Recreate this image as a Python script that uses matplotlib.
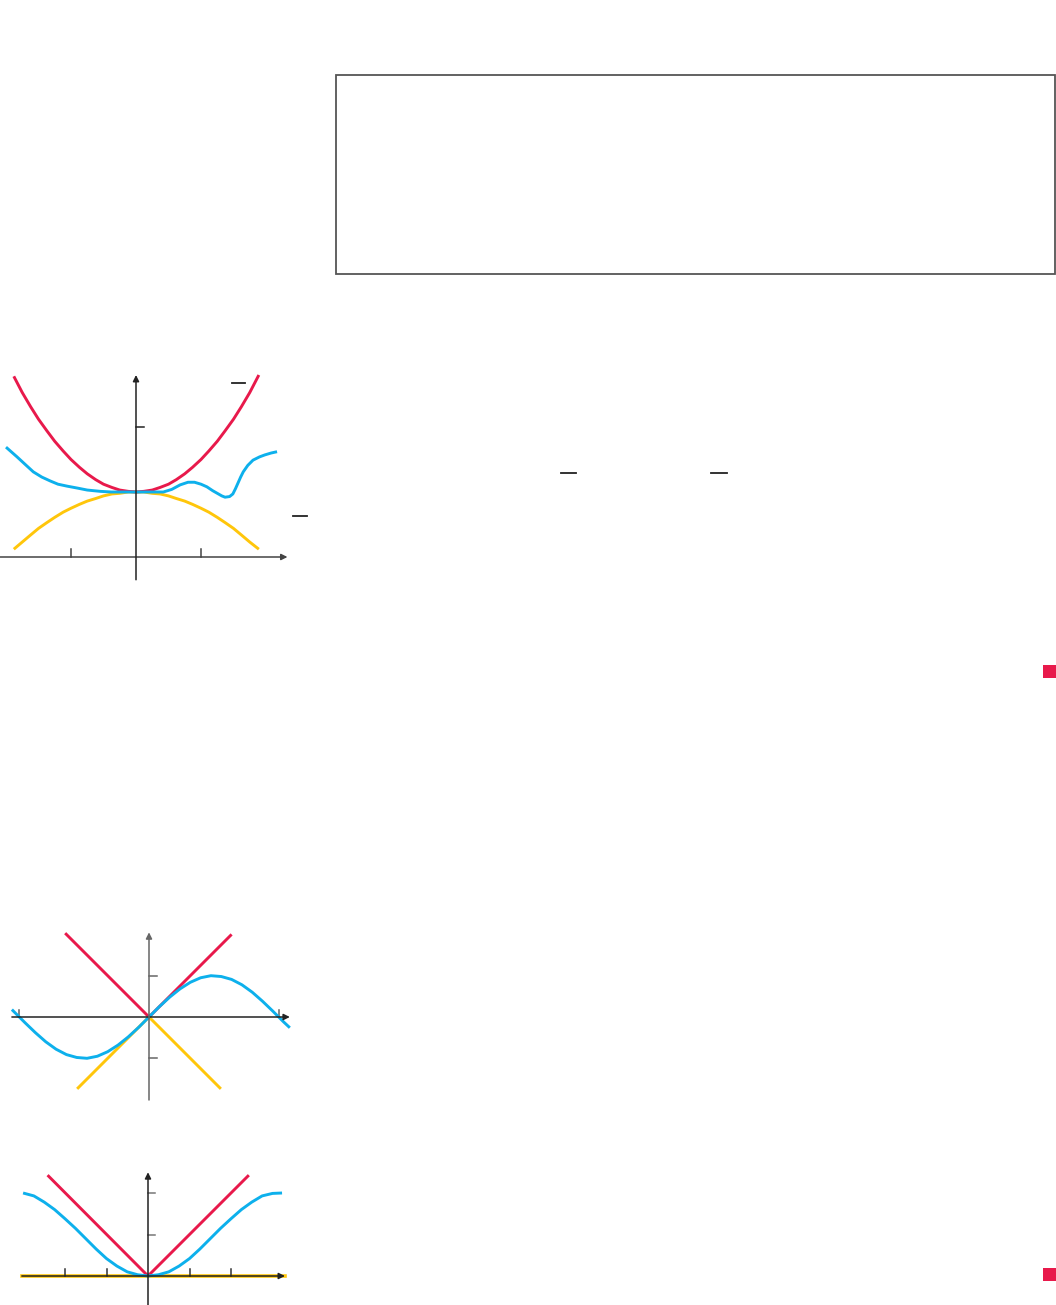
import matplotlib.pyplot as plt
from matplotlib.patches import Rectangle

W, H = 1056, 1305
RED = "#E8194B"
BLUE = "#0DB0EC"
YELLOW = "#FFC60B"

# --- graph 1: squeeze (red above, yellow below, blue between) ---
g1_red_x = [-1.88, -1.75, -1.62, -1.5, -1.37, -1.25, -1.12, -1.0, -0.87, -0.75,
            -0.62, -0.5, -0.37, -0.25, -0.12, 0.0, 0.12, 0.25, 0.37, 0.5, 0.62,
            0.75, 0.87, 1.0, 1.12, 1.25, 1.37, 1.5, 1.62, 1.75, 1.89]
g1_red_y = [2.78, 2.53, 2.31, 2.12, 1.94, 1.78, 1.63, 1.5, 1.38, 1.28,
            1.19, 1.12, 1.07, 1.03, 1.01, 1.0, 1.01, 1.03, 1.07, 1.12, 1.19,
            1.28, 1.38, 1.5, 1.63, 1.78, 1.94, 2.12, 2.31, 2.53, 2.8]
g1_yel_x = g1_red_x
g1_yel_y = [0.12, 0.23, 0.34, 0.44, 0.53, 0.61, 0.69, 0.75, 0.81, 0.86,
            0.9, 0.94, 0.97, 0.98, 1.0, 1.0, 1.0, 0.98, 0.97, 0.94, 0.9,
            0.86, 0.81, 0.75, 0.69, 0.61, 0.53, 0.44, 0.34, 0.23, 0.12]
g1_blue_x = [-2.0, -1.83, -1.7, -1.58, -1.45, -1.32, -1.2, -1.06, -0.9, -0.75,
             -0.55, -0.38, -0.2, 0.0, 0.2, 0.42, 0.55, 0.68, 0.8, 0.9, 1.0,
             1.09, 1.18, 1.25, 1.32, 1.37, 1.44, 1.49, 1.53, 1.57, 1.61, 1.65,
             1.72, 1.8, 1.9, 1.98, 2.08, 2.17]
g1_blue_y = [1.69, 1.54, 1.42, 1.31, 1.23, 1.17, 1.12, 1.09, 1.06, 1.03,
             1.01, 1.0, 1.0, 1.0, 1.0, 1.0, 1.04, 1.11, 1.15, 1.15, 1.12,
             1.08, 1.02, 0.98, 0.94, 0.92, 0.93, 0.97, 1.05, 1.14, 1.23, 1.31,
             1.41, 1.49, 1.54, 1.57, 1.6, 1.62]
g1_xticks = [-1, 1]
g1_yticks = [2]

# --- graph 2: sin x between |x| and -|x| ---
g2_sin_x = [-3.32, -3.0, -2.75, -2.5, -2.25, -2.0, -1.75, -1.5, -1.25, -1.0,
            -0.75, -0.5, -0.25, 0.0, 0.25, 0.5, 0.75, 1.0, 1.25, 1.5, 1.75,
            2.0, 2.25, 2.5, 2.75, 3.0, 3.25, 3.41]
g2_sin_y = [0.18, -0.14, -0.38, -0.6, -0.78, -0.91, -0.98, -1.0, -0.95, -0.84,
            -0.68, -0.48, -0.25, 0.0, 0.25, 0.48, 0.68, 0.84, 0.95, 1.0, 0.98,
            0.91, 0.78, 0.6, 0.38, 0.14, -0.11, -0.26]
g2_red_x = [-2.03, 0.0, 2.0]
g2_red_y = [2.03, 0.0, 2.0]
g2_yel_x = [-1.74, 0.0, 1.74]
g2_yel_y = [-1.74, 0.0, -1.74]
g2_xticks = [-3.14, 3.14]
g2_yticks = [-1, 1]

# --- graph 3: 1 - cos x between 0 and |x| ---
g3_blue_x = [-3.01, -2.75, -2.5, -2.25, -2.0, -1.75, -1.5, -1.25, -1.0, -0.75,
             -0.5, -0.25, 0.0, 0.25, 0.5, 0.75, 1.0, 1.25, 1.5, 1.75, 2.0,
             2.25, 2.5, 2.75, 3.0, 3.23]
g3_blue_y = [2.0, 1.93, 1.78, 1.6, 1.38, 1.15, 0.9, 0.65, 0.42, 0.24,
             0.1, 0.03, 0.0, 0.03, 0.1, 0.24, 0.42, 0.65, 0.9, 1.15, 1.38,
             1.6, 1.78, 1.93, 1.99, 2.0]
g3_red_x = [-2.42, 0.0, 2.43]
g3_red_y = [2.43, 0.0, 2.43]
g3_yel_x = [-3.04, 3.3]
g3_yel_y = [0.0, 0.0]
g3_xticks = [-2, -1, 1, 2]
g3_yticks = [1, 2]


def px_axes(fig, ox, oy, unit, xlim, ylim):
    # axes whose data origin sits at pixel (ox, oy), with `unit` px per data unit
    left = ox + unit * xlim[0]
    right = ox + unit * xlim[1]
    top = oy - unit * ylim[1]
    bottom = oy - unit * ylim[0]
    ax = fig.add_axes([left / W, 1 - bottom / H, (right - left) / W, (bottom - top) / H])
    ax.set_xlim(*xlim)
    ax.set_ylim(*ylim)
    ax.axis("off")
    return ax


def arrow(ax, start, end, color):
    ax.annotate("", xy=end, xytext=start,
                arrowprops=dict(arrowstyle="-|>", color=color, lw=1.1,
                                mutation_scale=9, shrinkA=0, shrinkB=0))


def curve(ax, x, y, color, lw=2.1):
    ax.plot(x, y, color=color, lw=lw, solid_joinstyle="round", solid_capstyle="butt")


fig = plt.figure(figsize=(W / 100, H / 100), dpi=100)

# page overlay in pixel coordinates: box, fraction bars, end-of-example squares
page = fig.add_axes([0, 0, 1, 1], zorder=0)
page.set_xlim(0, W)
page.set_ylim(H, 0)
page.axis("off")
page.add_patch(Rectangle((336, 75), 719, 199, fill=False, ec="#555555", lw=1.3))
for x0, x1, y in [(561, 576, 473), (711, 727, 473), (232, 245, 383), (293, 307, 516)]:
    page.plot([x0, x1], [y, y], color="#222222", lw=1.3)
for y in [665, 1268]:
    page.add_patch(Rectangle((1043, y), 13, 13, color=RED, lw=0))

# graph 1
ax1 = px_axes(fig, 136, 557, 65, (-2.09, 2.45), (-0.4, 2.9))
arrow(ax1, (-2.09, 0), (2.33, 0), "#444444")
arrow(ax1, (0, -0.35), (0, 2.8), "#222222")
for t in g1_xticks:
    ax1.plot([t, t], [0, 0.12], color="#444444", lw=1.1)
for t in g1_yticks:
    ax1.plot([0, 0.12], [t, t], color="#222222", lw=1.1)
curve(ax1, g1_yel_x, g1_yel_y, YELLOW)
curve(ax1, g1_red_x, g1_red_y, RED)
curve(ax1, g1_blue_x, g1_blue_y, BLUE)

# graph 2
ax2 = px_axes(fig, 149, 1017, 41.3, (-3.55, 3.6), (-2.15, 2.15))
arrow(ax2, (-3.32, 0), (3.41, 0), "#222222")
arrow(ax2, (0, -2.01), (0, 2.05), "#666666")
for t in g2_xticks:
    ax2.plot([t, t], [0, 0.17], color="#666666", lw=1.1)
for t in g2_yticks:
    ax2.plot([0, 0.2], [t, t], color="#666666", lw=1.1)
curve(ax2, g2_red_x, g2_red_y, RED)
curve(ax2, g2_yel_x, g2_yel_y, YELLOW)
curve(ax2, g2_sin_x, g2_sin_y, BLUE)

# graph 3
ax3 = px_axes(fig, 148, 1276, 41.5, (-3.5, 3.6), (-0.72, 2.6))
ax3.plot(g3_yel_x, g3_yel_y, color=YELLOW, lw=2.6)
arrow(ax3, (-3.04, 0), (3.3, 0), "#222222")
arrow(ax3, (0, -0.72), (0, 2.5), "#222222")
for t in g3_xticks:
    ax3.plot([t, t], [0, 0.17], color="#333333", lw=1.1)
for t in g3_yticks:
    ax3.plot([0, 0.18], [t, t], color="#777777", lw=1.1)
curve(ax3, g3_red_x, g3_red_y, RED)
curve(ax3, g3_blue_x, g3_blue_y, BLUE)

fig.savefig("out.png", dpi=100)
